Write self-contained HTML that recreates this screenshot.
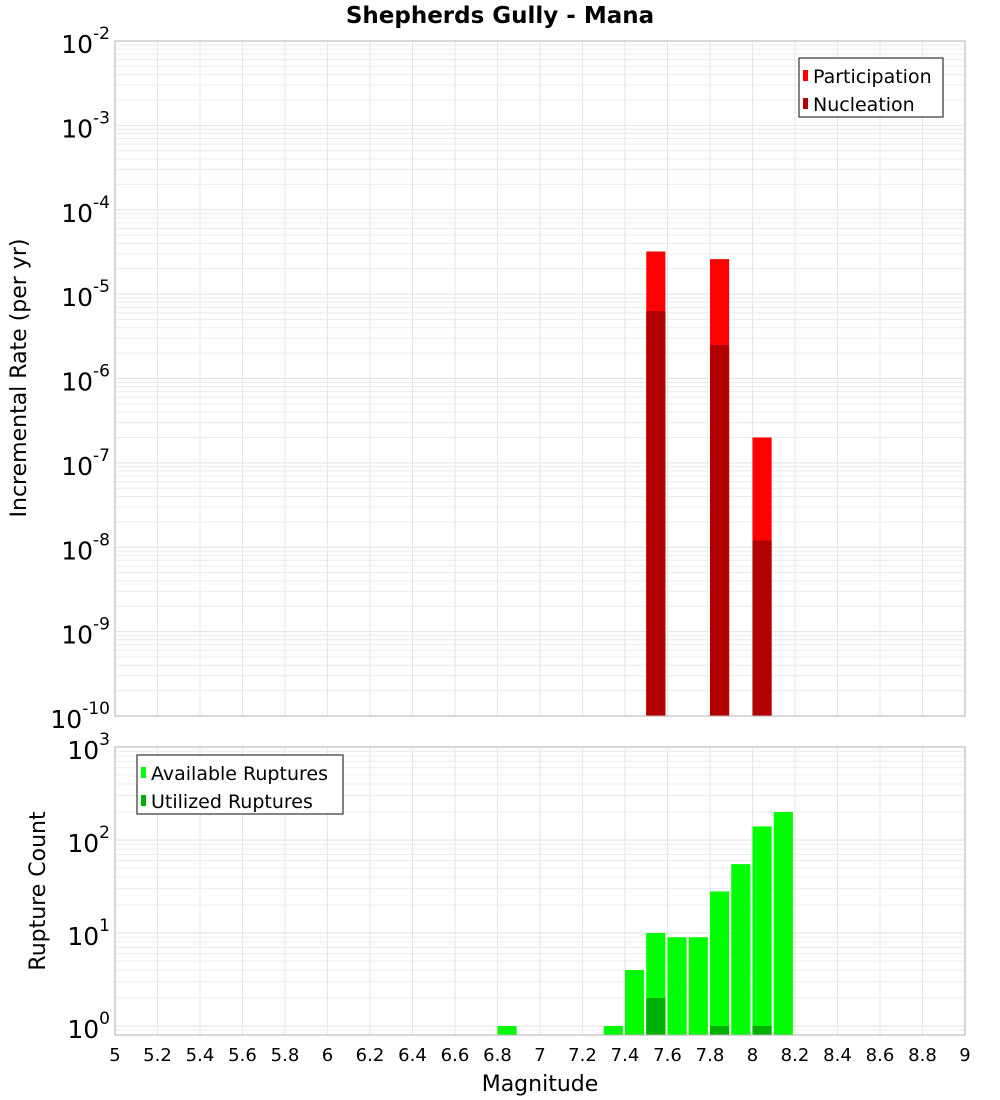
<!DOCTYPE html>
<html><head><meta charset="utf-8"><style>
body{margin:0;background:#fff;}
svg{display:block;font-family:"DejaVu Sans","Liberation Sans",sans-serif;}
</style></head><body>
<svg id="c" width="1000" height="1100"></svg>
<script>
const bins=[6.8,6.9,7.0,7.1,7.2,7.3,7.4,7.5,7.6,7.7,7.8,7.9,8.0,8.1];
const topBins=[7.5,7.8,8.0];
const participation=[3.2e-5,2.6e-5,2e-7];
const nucleation=[6.3e-6,2.5e-6,1.2e-8];
const countBins=[6.8,7.3,7.4,7.5,7.6,7.7,7.8,7.9,8.0,8.1];
const available=[1,1,4,10,9,9,28,55,140,200];
const utilBins=[7.5,7.8,8.0];
const utilized=[2,1,1];
const xTicks=[5,5.2,5.4,5.6,5.8,6,6.2,6.4,6.6,6.8,7,7.2,7.4,7.6,7.8,8,8.2,8.4,8.6,8.8,9];
const topExp=[-2,-3,-4,-5,-6,-7,-8,-9,-10];
const botExp=[3,2,1,0];

const NS="http://www.w3.org/2000/svg";
const svg=document.getElementById('c');
function el(t,a,p){const e=document.createElementNS(NS,t);for(const k in a)e.setAttribute(k,a[k]);(p||svg).appendChild(e);return e;}
const L=115,R=965;
const x=m=>L+(m-5)/4*(R-L);
const T1=41,B1=716;
const y1=v=>T1+(-2-Math.log10(v))*(B1-T1)/8;
const T2=747,B2=1035;
const y2=v=>1026-Math.log10(v)*93;

// grids
function grid(yf,lo,hi,top,bot,name){
  const g=el('g',{});
  
  
  for(let e=lo;e<hi;e++)for(let k=1;k<10;k++){const yy=yf(k*Math.pow(10,e));if(yy<top-0.5||yy>bot+0.5)continue;
    el('line',{x1:L,x2:R,y1:yy,y2:yy,stroke:k==1?'#e2e2e2':'#ececec','stroke-width':1},g);}
  for(const t of xTicks){el('line',{x1:x(t),x2:x(t),y1:top,y2:bot,stroke:'#e6e6e6','stroke-width':1},g);}
}
grid(y1,-10,-2,T1,B1,'top-grid');
grid(y2,-1,3,T2,B2,'bottom-grid');

const bw=x(5.09)-x(5);
function bar(m,v,yf,base,col,name){const yy=yf(v);const r=el('rect',{x:x(m),y:yy,width:bw,height:base-yy,fill:col});
  }
topBins.forEach((m,i)=>bar(m,participation[i],y1,B1,'#ff0000','participation-bar'));
topBins.forEach((m,i)=>bar(m,nucleation[i],y1,B1,'#b00000','nucleation-bar'));
countBins.forEach((m,i)=>bar(m,available[i],y2,B2,'#00ff00','available-bar'));
utilBins.forEach((m,i)=>bar(m,utilized[i],y2,B2,'#00b000','utilized-bar'));

el('rect',{x:L,y:T1,width:R-L,height:B1-T1,fill:'none',stroke:'#b0b0b0'});
el('rect',{x:L,y:T2,width:R-L,height:B2-T2,fill:'none',stroke:'#b0b0b0'});

function txt(s,a,name){const t=el('text',a);t.textContent=s;return t;}
function powLabel(e,yy,name){const t=el('text',{x:110,y:yy+12,'text-anchor':'end','font-size':25,fill:'#000'});
  
  const a=el('tspan',{},t);a.textContent='10';const b=el('tspan',{dy:-14,'font-size':17},t);b.textContent=String(e);}
topExp.forEach(e=>powLabel(e,y1(Math.pow(10,e)),'y-tick-label'));
botExp.forEach(e=>powLabel(e,y2(Math.pow(10,e)),'y2-tick-label'));
xTicks.forEach(t=>txt(String(Math.round(t*10)/10),{x:x(t),y:1061,'text-anchor':'middle','font-size':18,fill:'#000'},'x-tick-label'));

txt('Shepherds Gully - Mana',{x:500,y:23,'text-anchor':'middle','font-size':23,'font-weight':'bold'},'chart-title');
txt('Magnitude',{x:540,y:1091,'text-anchor':'middle','font-size':22},'x-axis-title');
txt('Incremental Rate (per yr)',{x:0,y:0,'text-anchor':'middle','font-size':22,transform:'translate(26,378) rotate(-90)'},'y-axis-title');
txt('Rupture Count',{x:0,y:0,'text-anchor':'middle','font-size':22,transform:'translate(45,891) rotate(-90)'},'y2-axis-title');

function legend(lx,ly,w,items,name){const g=el('g',{});
  el('rect',{x:lx,y:ly,width:w,height:59,fill:'#fff',stroke:'#333','stroke-width':1.2},g);
  items.forEach((it,i)=>{el('rect',{x:lx+4,y:ly+12+i*28,width:5,height:11,fill:it[1]},g);
    const t=el('text',{x:lx+14,y:ly+25+i*28,'font-size':19},g);t.textContent=it[0];
    });}
legend(799,58,144,[['Participation','#ff0000'],['Nucleation','#b00000']],'top-legend');
legend(137,755,206,[['Available Ruptures','#00ff00'],['Utilized Ruptures','#00b000']],'bottom-legend');
</script>
</body></html>
